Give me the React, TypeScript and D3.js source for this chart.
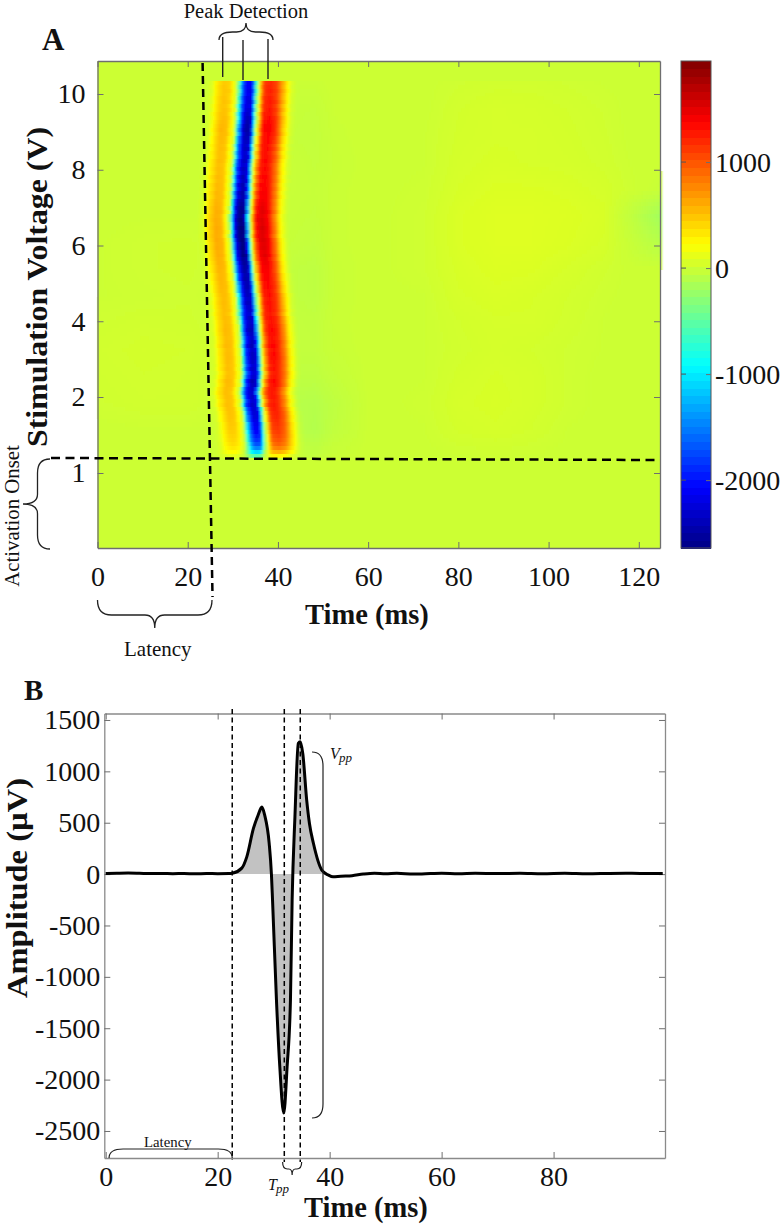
import React, { useRef, useEffect } from 'react';
import * as d3 from 'd3';

const SERIF = '"Liberation Serif", "Times New Roman", serif';

// Panel A: trough time (ms) of the evoked response for each stimulation row, top to bottom
const troughTimes = [
  33.4, 33.3, 33.4, 33.3, 33.2, 33.3, 33.1, 33.2, 33.0, 33.1, 33.0, 32.9,
  32.8, 32.9, 32.7, 32.7, 32.5, 32.6, 32.4, 32.5, 32.3, 32.2,
  32.1, 32.2, 32.0, 32.1, 31.9, 32.0, 31.8, 31.9, 31.7, 31.7,
  31.6, 31.7, 31.5, 31.5, 31.6, 31.6, 31.7, 31.6, 31.8, 31.9,
  31.9, 32.0, 32.1, 32.1, 32.3, 32.4, 32.4, 32.6, 32.6, 32.8,
  32.9, 32.9, 33.1, 33.2, 33.2, 33.3, 33.4, 33.3, 33.5, 33.6,
  33.7, 33.7, 33.8, 33.9, 34.0, 33.9, 34.1, 34.1, 34.2, 34.2,
  34.3, 34.2, 34.4, 34.3, 34.1, 34.2, 33.9, 33.8, 34.0, 34.2,
  34.1, 34.4, 34.6, 34.7, 34.7, 34.9, 34.9, 35.0, 35.1, 35.1,
  35.2, 35.2, 35.1, 35.0,
];

// response size of each row relative to the typical waveform
const rowGains = [
  0.88, 0.9, 0.92, 0.9, 0.93, 0.95, 0.93, 0.96, 0.97, 1.0, 1.02, 1.04,
  1.05, 1.03, 1.02, 1.0, 0.98, 1.0, 0.97, 0.98, 1.0, 0.97,
  1.0, 0.98, 1.02, 1.0, 1.03, 1.02, 1.05, 1.04, 1.06, 1.08,
  1.1, 1.12, 1.1, 1.13, 1.12, 1.15, 1.13, 1.12, 1.14, 1.12,
  1.13, 1.1, 1.12, 1.08, 1.08, 1.06, 1.05, 1.03, 1.04, 1.02,
  1.02, 1.0, 1.0, 0.98, 1.0, 0.98, 0.98, 0.96, 1.0, 0.98,
  1.0, 1.02, 1.0, 0.98, 1.0, 1.02, 0.98, 1.0, 1.0, 0.98,
  0.96, 0.98, 0.95, 0.97, 1.02, 1.0, 0.98, 0.97, 0.98, 0.96,
  0.98, 0.96, 0.95, 0.94, 0.92, 0.9, 0.88, 0.86, 0.82, 0.78,
  0.72, 0.62, 0.45, 0.22,
];

// typical waveform in a row: offset from the trough (ms) and amplitude
const waveOffsets = [-9.6, -8.4, -7.3, -5.8, -4.4, -3.5, -2.7, -2.2, -1.6, -0.7, 0, 0.9, 1.3, 1.8, 2.2, 2.9, 3.5, 4.9, 6.2, 7.3, 8.2, 8.9, 9.7, 10.6, 12];
const waveValues = [0, 60, 330, 540, 500, 230, 0, -700, -1700, -2250, -2400, -2200, -1300, -300, 150, 850, 1280, 1380, 1180, 800, 420, 220, 60, 0, 0];

// slow background activity away from the main response
const fieldTimes = [0, 10, 20, 30, 44, 48, 52, 60, 72, 80, 88, 96, 104, 112, 118, 125];
const fieldRows = [
  [0, 0, 0, 0, -10, -10, 0, 0, 0, 15, 25, 25, 15, 5, 0, 0],
  [0, 0, 0, 0, -25, -30, -5, 0, 0, 30, 45, 40, 30, 15, 0, 0],
  [0, 0, 0, 0, -30, -35, -10, 0, 5, 35, 45, 45, 35, 20, 0, 0],
  [0, 0, 0, 0, -20, -30, -15, 0, 5, 40, 55, 45, 40, 25, 5, 0],
  [0, 0, 0, 0, -20, -25, -10, 0, 10, 50, 70, 70, 60, 40, 10, -20],
  [0, 5, 5, 0, -25, -30, -10, 0, 15, 65, 85, 85, 75, 55, -50, -190],
  [5, 15, 20, 0, -30, -40, -10, 0, 15, 65, 85, 85, 70, 45, -20, -100],
  [5, 15, 20, 0, -50, -60, -15, 0, 15, 55, 75, 70, 45, 20, 0, 0],
  [5, 10, 15, 0, -50, -60, -15, 0, 5, 45, 60, 50, 30, 10, 0, 0],
  [15, 25, 20, 0, -40, -45, -10, 0, 5, 30, 45, 45, 25, 5, 0, 0],
  [25, 35, 30, 0, -40, -40, -15, 0, 5, 25, 40, 30, 15, 5, 0, 0],
  [20, 30, 25, 0, -60, -60, -30, 0, 5, 35, 50, 40, 15, 0, 0, 0],
  [15, 25, 25, 0, -90, -100, -60, 0, 10, 45, 55, 40, 15, 0, 0, 0],
  [0, 5, 5, 0, -80, -110, -50, 0, 5, 35, 45, 30, 5, 0, 0, 0],
  [0, 0, 0, 0, -30, -40, -10, 0, 0, 5, 10, 5, 0, 0, 0, 0],
];

// Panel B: averaged trace
const traceTimes = [0, 2, 4, 6, 8, 10, 12, 14, 16, 18, 20, 22, 22.6, 24.3, 25.2, 26.4, 27.2, 27.9, 28.4, 29.2, 29.6, 29.8, 30.5, 31.1, 31.8, 32.4, 33, 33.3, 33.8, 34.4, 34.75, 35.2, 35.9, 36.4, 37.1, 38.6, 39.8, 40.6, 42, 44, 46, 48, 50, 52, 55, 58, 60, 63, 66, 70, 74, 78, 82, 86, 90, 94, 97, 99.5];
const traceValues = [5, 8, 10, 8, 5, 7, 4, 6, 3, 6, 4, 5, 8, 58, 168, 447, 570, 652, 574, 300, 0, -253, -1226, -1877, -2325, -1877, -1226, -253, 557, 1273, 1287, 1175, 720, 490, 300, 39, -10, -26, -20, -15, 0, 8, 3, 8, 0, 5, 9, 3, 8, 5, 9, 4, 8, 3, 7, 9, 5, 7];

const voltageTicks = [1, 2, 4, 6, 8, 10];
const timeTicksA = [0, 20, 40, 60, 80, 100, 120];
const timeTicksB = [0, 20, 40, 60, 80];
const colorTicks = [-2000, -1000, 0, 1000];
const ampTicks = [-2500, -2000, -1500, -1000, -500, 0, 500, 1000, 1500];
const jetPositions = [0, 0.125, 0.375, 0.625, 0.875, 1];
const jetColors = ['#000084', '#0000ff', '#00ffff', '#ffff00', '#ff0000', '#800000'];

const brace = (x0: number, y0: number, x1: number, body: number, nib: number, vertical = false) => {
  // brace drawn along one axis; body and nib are offsets on the other axis
  const p = d3.path();
  const pt = (a: number, b: number): [number, number] => (vertical ? [b, a] : [a, b]);
  const mid = (x0 + x1) / 2;
  const r = Math.min(14, Math.abs(x1 - x0) / 4);
  p.moveTo(...pt(x0, y0));
  p.quadraticCurveTo(...pt(x0, body), ...pt(x0 + r, body));
  p.lineTo(...pt(mid - r * 0.7, body));
  p.quadraticCurveTo(...pt(mid, body), ...pt(mid, nib));
  p.quadraticCurveTo(...pt(mid, body), ...pt(mid + r * 0.7, body));
  p.lineTo(...pt(x1 - r, body));
  p.quadraticCurveTo(...pt(x1, body), ...pt(x1, y0));
  return p.toString();
};

export default function App() {
  const ref = useRef<SVGSVGElement>(null);

  useEffect(() => {
    const svg = d3.select(ref.current);
    svg.selectAll('*').remove();
    svg.attr('font-family', SERIF);

    const jet = d3.scaleLinear<string>().domain(jetPositions).range(jetColors).interpolate(d3.interpolateRgb);
    const colorDomain = [-2640, 1953];
    const colorOf = (v: number) => jet((v - colorDomain[0]) / (colorDomain[1] - colorDomain[0]));

    // ---- Panel A ----
    const xA = d3.scaleLinear().domain([0, 124.7]).range([97.5, 660]);
    const yA = d3.scaleLinear().domain([0.01, 1, 2, 10, 10.87]).range([548, 473, 397, 94, 61]);
    const [yTop, yBottom] = [yA(10.35), yA(1.2)];

    svg.append('defs').append('filter').attr('id', 'soft')
      .attr('x', '-2%').attr('y', '-2%').attr('width', '104%').attr('height', '104%')
      .append('feGaussianBlur').attr('stdDeviation', '1 0.35');

    svg.append('rect')
      .attr('x', xA(0)).attr('y', yA(10.87))
      .attr('width', xA(124.7) - xA(0)).attr('height', yA(0.01) - yA(10.87))
      .attr('fill', colorOf(0));

    const rowBand = d3.scaleBand<number>().domain(d3.range(troughTimes.length)).range([yTop, yBottom]);
    const wave = d3.scaleLinear().domain(waveOffsets).range(waveValues).clamp(true);
    const fieldScales = fieldRows.map(r => d3.scaleLinear().domain(fieldTimes).range(r).clamp(true));
    const columns = d3.range(0, 124.7, 0.5);
    const cells: { t: number; row: number; v: number }[] = [];
    troughTimes.forEach((trough, row) => {
      const f = (row / (troughTimes.length - 1)) * (fieldRows.length - 1);
      const i0 = Math.floor(f);
      const i1 = Math.min(i0 + 1, fieldRows.length - 1);
      columns.forEach(t => {
        const slow = fieldScales[i0](t) * (1 - (f - i0)) + fieldScales[i1](t) * (f - i0);
        const v = wave(t - trough) * rowGains[row] + slow;
        if (Math.abs(v) > 6) cells.push({ t, row, v });
      });
    });
    svg.append('g').attr('filter', 'url(#soft)').attr('shape-rendering', 'crispEdges')
      .selectAll('rect').data(cells).join('rect')
      .attr('x', d => xA(d.t))
      .attr('y', d => rowBand(d.row) as number)
      .attr('width', xA(0.5) - xA(0) + 0.5)
      .attr('height', rowBand.bandwidth() + 0.5)
      .attr('fill', d => colorOf(d.v));

    const styleAxis = (g: any, size: number) => {
      g.attr('font-family', SERIF).attr('font-size', size);
      g.selectAll('.domain').attr('stroke', '#6f6f6f').attr('stroke-width', 1.3);
      g.selectAll('.tick line').attr('stroke', '#6f6f6f').attr('stroke-width', 1);
      g.selectAll('.tick text').attr('fill', '#111');
    };

    const frameA = svg.append('g');
    frameA.append('g').attr('transform', `translate(0,${yA(0.01)})`)
      .call(d3.axisBottom(xA).tickValues(timeTicksA).tickSize(-6).tickSizeOuter(0).tickPadding(18).tickFormat(d => String(d)))
      .call(styleAxis, 28);
    frameA.append('g').attr('transform', `translate(0,${yA(10.87)})`)
      .call(d3.axisTop(xA).tickValues(timeTicksA).tickSize(-6).tickSizeOuter(0).tickFormat(() => ''))
      .call(styleAxis, 28);
    frameA.append('g').attr('transform', `translate(${xA(0)},0)`)
      .call(d3.axisLeft(yA).tickValues(voltageTicks).tickSize(-6).tickSizeOuter(0).tickPadding(12).tickFormat(d => String(d)))
      .call(styleAxis, 28);
    frameA.append('g').attr('transform', `translate(${xA(124.7)},0)`)
      .call(d3.axisRight(yA).tickValues(voltageTicks).tickSize(-6).tickSizeOuter(0).tickFormat(() => ''))
      .call(styleAxis, 28);

    // colour bar
    const cbY = d3.scaleLinear().domain(colorDomain).range([548, 61]);
    const levels = d3.range(64);
    const levelBand = d3.scaleBand<number>().domain(levels).range([548, 61]);
    svg.append('g').attr('shape-rendering', 'crispEdges').selectAll('rect').data(levels).join('rect')
      .attr('x', 681).attr('width', 30)
      .attr('y', d => levelBand(d) as number)
      .attr('height', levelBand.bandwidth() + 0.5)
      .attr('fill', d => jet((d + 0.5) / 64));
    svg.append('rect').attr('x', 681).attr('y', 61).attr('width', 30).attr('height', 487)
      .attr('fill', 'none').attr('stroke', '#555').attr('stroke-width', 1);
    const cbTicks = svg.append('g').attr('transform', 'translate(711,0)')
      .call(d3.axisRight(cbY).tickValues(colorTicks).tickSize(-5).tickSizeOuter(0).tickPadding(4).tickFormat(d => String(d)))
      .call(styleAxis, 28);
    cbTicks.select('.domain').remove();
    svg.append('g').attr('transform', 'translate(681,0)').selectAll('line').data(colorTicks).join('line')
      .attr('x1', 0).attr('x2', 5).attr('y1', d => cbY(d)).attr('y2', d => cbY(d))
      .attr('stroke', '#555');

    // dashed guides in panel A
    const dash = (g: any, x1: number, y1: number, x2: number, y2: number, w: number, pattern: string, color = '#000') =>
      g.append('line').attr('x1', x1).attr('y1', y1).attr('x2', x2).attr('y2', y2)
        .attr('stroke', color).attr('stroke-width', w).attr('stroke-dasharray', pattern);
    dash(svg, xA(23.3), 63, xA(25.5), 597, 2.5, '8 5');
    dash(svg, 51, 458, xA(124.7), 460, 2.5, '9 5.5');

    const curve = (d: string, w = 1.3) => svg.append('path').attr('d', d).attr('fill', 'none')
      .attr('stroke', '#222').attr('stroke-width', w);
    curve(brace(219, 40, 273, 32, 23));
    curve(brace(xA(0), 600, 212, 615, 628));
    curve(brace(459, 50, 549, 37.5, 23, true));
    [[222.7, 37, 77], [243, 40, 80], [268, 39, 79]].forEach(([x, a, b]) => {
      svg.append('line').attr('x1', x).attr('x2', x).attr('y1', a).attr('y2', b)
        .attr('stroke', '#222').attr('stroke-width', 1.4);
    });

    const label = (text: string, x: number, y: number, size: number, opts: any = {}) => {
      const t = svg.append('text').attr('x', x).attr('y', y).attr('font-size', size)
        .attr('fill', opts.fill || '#111').attr('text-anchor', opts.anchor || 'start').text(text);
      if (opts.bold) t.attr('font-weight', 'bold');
      if (opts.italic) t.attr('font-style', 'italic');
      if (opts.rotate) t.attr('transform', `rotate(-90 ${x} ${y})`);
      if (opts.length) t.attr('textLength', opts.length).attr('lengthAdjust', 'spacingAndGlyphs');
      return t;
    };
    label('A', 42, 50, 31, { bold: true });
    label('Peak Detection', 246, 17.5, 20.5, { anchor: 'middle' });
    label('Stimulation Voltage (V)', 47, 287, 30, { bold: true, anchor: 'middle', rotate: true, length: 320 });
    label('Activation Onset', 18.5, 516, 20.8, { anchor: 'middle', rotate: true });
    label('Time (ms)', 305, 624, 28.5, { bold: true });
    label('Latency', 124, 656, 21);
    label('B', 24, 700, 29, { bold: true });

    // ---- Panel B ----
    const xB = d3.scaleLinear().domain([-0.25, 99.9]).range([104.3, 665]);
    const yB = d3.scaleLinear().domain([-2763, 1563]).range([1158, 713.5]);
    const trace = traceTimes.map((t, i) => ({ t, v: traceValues[i] }));

    const filled = trace.filter(d => d.t >= 22.6 && d.t <= 38.6);
    svg.append('path').datum(filled)
      .attr('d', d3.area<any>().x(d => xB(d.t)).y0(yB(0)).y1(d => yB(d.v)).curve(d3.curveMonotoneX))
      .attr('fill', '#c2c2c2');

    const frameB = svg.append('g');
    frameB.append('g').attr('transform', `translate(0,${yB(-2763)})`)
      .call(d3.axisBottom(xB).tickValues(timeTicksB).tickSize(-6).tickSizeOuter(0).tickPadding(8).tickFormat(d => String(d)))
      .call(styleAxis, 28);
    frameB.append('g').attr('transform', `translate(0,${yB(1563)})`)
      .call(d3.axisTop(xB).tickValues(timeTicksB).tickSize(-6).tickSizeOuter(0).tickFormat(() => ''))
      .call(styleAxis, 28);
    frameB.append('g').attr('transform', `translate(${xB(-0.25)},0)`)
      .call(d3.axisLeft(yB).tickValues(ampTicks).tickSize(-6).tickSizeOuter(0).tickPadding(4).tickFormat(d => String(d)))
      .call(styleAxis, 28);
    frameB.append('g').attr('transform', `translate(${xB(99.9)},0)`)
      .call(d3.axisRight(yB).tickValues(ampTicks).tickSize(-6).tickSizeOuter(0).tickFormat(() => ''))
      .call(styleAxis, 28);
    frameB.selectAll('.domain').attr('stroke', '#8a8a8a');

    svg.append('path').datum(trace)
      .attr('d', d3.line<any>().x(d => xB(d.t)).y(d => yB(d.v)).curve(d3.curveMonotoneX))
      .attr('fill', 'none').attr('stroke', '#000').attr('stroke-width', 3).attr('stroke-linejoin', 'round');

    dash(svg, xB(22.6), 709, xB(22.6), 1160, 1.5, '5 3.5');
    dash(svg, xB(31.9), 709, xB(31.9), 1162, 1.5, '5 3.5');
    dash(svg, xB(34.75), 709, xB(34.75), 1162, 1.5, '5 3.5');

    curve(brace(xB(0.6), 1158, xB(22.6), 1149, 1149), 1.2);
    curve(brace(xB(31.6), 1162, xB(35), 1169, 1175), 1.2);
    curve(brace(752, 312, 1118, 323, 323, true), 1.2);

    label('Latency', 144, 1147, 14.8);
    label('T', 268, 1190, 16, { italic: true });
    label('pp', 276, 1193, 13, { italic: true });
    label('V', 330, 759, 16, { italic: true });
    label('pp', 339, 762, 13, { italic: true });
    label('Amplitude (µV)', 26.5, 888, 29.5, { bold: true, anchor: 'middle', rotate: true, length: 220 });
    label('Time (ms)', 304, 1217, 28.5, { bold: true });
  }, []);

  return <svg ref={ref} width={781} height={1226} style={{ position: 'absolute', left: 0, top: 0, background: '#fff' }} />;
}
